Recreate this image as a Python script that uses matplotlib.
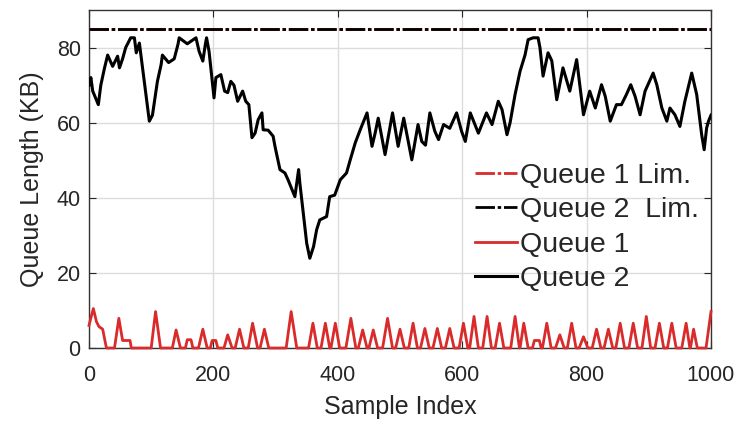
import matplotlib
matplotlib.use("Agg")
import matplotlib.pyplot as plt

# ---------------- data ----------------
sample_range = [0, 1000]
queue1_limit = 85
queue2_limit = 85

black_x = [0, 3, 6, 15, 19, 25, 30, 38, 46, 49, 54, 59, 67, 73, 76, 81, 97, 102, 110, 116,
           118, 128, 137, 143, 145, 158, 172, 177, 183, 187, 189, 193, 201, 204, 212, 218,
           223, 228, 233, 239, 247, 252, 257, 262, 267, 272, 278, 280, 288, 296, 299, 307,
           315, 320, 331, 337, 339, 350, 355, 361, 366, 371, 382, 387, 395, 404, 414, 420,
           428, 436, 447, 455, 460, 465, 476, 488, 497, 506, 519, 529, 535, 541, 548, 556,
           562, 570, 580, 591, 599, 605, 613, 626, 639, 648, 658, 664, 672, 677, 685, 693,
           701, 706, 714, 722, 725, 730, 738, 744, 752, 762, 773, 784, 795, 805, 814, 824,
           830, 838, 848, 856, 864, 871, 878, 886, 894, 907, 913, 921, 929, 934, 942, 950,
           958, 969, 977, 985, 989, 993, 996, 1000]
black_y = [70, 72, 68.4, 64.8, 70, 74.6, 78, 75, 77.7, 74.6, 77, 80, 82.6, 82.6, 78.6, 81.2,
           60.4, 62, 71, 75.5, 78, 76, 77, 80.8, 82.6, 81, 82.6, 79, 76.4, 80.8, 82.6, 79,
           66.6, 72, 72.8, 68.4, 68, 71, 70, 65.7, 68.4, 65.7, 64.8, 56, 57.2, 60.8, 62.6,
           58.1, 58, 56.4, 53.7, 47.5, 46.6, 44.8, 40.3, 47.5, 43.9, 27.9, 23.9, 27, 31.5,
           34.1, 35, 40.3, 40.7, 44.8, 46.6, 50.1, 54.6, 58.1, 62.6, 53.7, 57.2, 61.2, 51.5,
           62.6, 53.7, 61.2, 50.1, 59.5, 55, 54, 62.6, 57.7, 55.5, 59.5, 58.5, 62.6, 57.7,
           55, 62.6, 57.2, 62.6, 59.5, 65.7, 63.5, 56.8, 60, 67.5, 73.7, 78, 82.1, 82.6,
           82.6, 80, 72.4, 78.6, 76.5, 66.1, 74.6, 68.4, 76.8, 62.1, 68.4, 63.9, 70.1, 67,
           60.4, 64.8, 64.8, 67.5, 70.1, 67, 62.1, 68.4, 73.2, 70, 63.9, 60.4, 63.9, 62.1,
           59, 65.7, 73.2, 67.5, 56.8, 52.8, 58.6, 60.4, 62]

red_x = [0, 3, 7, 12, 16, 22, 28,
         41, 48, 54, 56, 66, 68,
         100, 107, 115,
         134, 140, 147,
         155, 158, 164, 167,
         176, 183, 190,
         195, 198, 204, 207,
         217, 223, 230,
         235, 242, 249,
         256, 263, 271,
         275, 282, 289,
         317, 325, 334,
         353, 360, 367,
         373, 380, 387,
         389, 396, 403,
         413, 421, 429,
         433, 440, 447,
         450, 457, 464,
         472, 480, 488,
         493, 500, 507,
         514, 521, 528,
         533, 540, 547,
         553, 560, 567,
         573, 580, 587,
         595, 602, 609,
         612, 619, 626,
         633, 640, 647,
         653, 660, 667,
         678, 685, 692,
         693, 699, 706,
         713, 716, 724, 727,
         729, 736, 743,
         750, 757, 764,
         769, 776, 783,
         788, 795, 802,
         809, 816, 823,
         828, 835, 842,
         847, 854, 861,
         868, 875, 882,
         889, 896, 903,
         910, 917, 924,
         930, 937, 944,
         953, 960, 966,
         967, 972, 978,
         992, 1000]
red_y = [6, 8, 10.5, 7, 5.7, 5, 0,
         0, 7.9, 2, 2, 2, 0,
         0, 9.7, 0,
         0, 4.8, 0,
         0, 2.2, 2.2, 0,
         0, 5, 0,
         0, 2, 2, 0,
         0, 3.5, 0,
         0, 5, 0,
         0, 6.6, 0,
         0, 5, 0,
         0, 9.7, 0,
         0, 6.6, 0,
         0, 6.6, 0,
         0, 6.6, 0,
         0, 7.9, 0,
         0, 4.8, 0,
         0, 4.8, 0,
         0, 7.9, 0,
         0, 5, 0,
         0, 6.6, 0,
         0, 5.2, 0,
         0, 5.2, 0,
         0, 5.2, 0,
         0, 6.6, 0,
         0, 8.4, 0,
         0, 8.4, 0,
         0, 6.6, 0,
         0, 8.4, 0,
         0, 6.6, 0,
         0, 2, 2, 0,
         0, 6.6, 0,
         0, 3.5, 0,
         0, 6.6, 0,
         0, 3, 0,
         0, 5, 0,
         0, 5, 0,
         0, 6.6, 0,
         0, 6.6, 0,
         0, 8.4, 0,
         0, 6.6, 0,
         0, 6.6, 0,
         0, 6.6, 0,
         0, 5, 0,
         0, 9.7]

x_ticks = [0, 200, 400, 600, 800, 1000]
y_ticks = [0, 20, 40, 60, 80]

# ---------------- style ----------------
plt.rcParams['font.family'] = ['Liberation Sans', 'DejaVu Sans']
plt.rcParams['lines.scale_dashes'] = False
RED = '#D92B2B'
TXT = '#262626'

fig = plt.figure(figsize=(7.46, 4.24), dpi=100)
ax = fig.add_axes([89 / 746, 1 - 348 / 424, (711 - 89) / 746, (348 - 10) / 424])

dashdot = (0, (14, 2, 2.5, 2))
ax.plot(sample_range, [queue1_limit] * 2, color=RED, lw=2.0, ls=dashdot,
        label='Queue 1 Lim.', zorder=3)
ax.plot(sample_range, [queue2_limit] * 2, color='black', lw=2.0, ls=dashdot,
        label='Queue 2  Lim.', zorder=4)
ax.plot(red_x, red_y, color=RED, lw=2.0, label='Queue 1', zorder=3, clip_on=False)
ax.plot(black_x, black_y, color='black', lw=2.2, label='Queue 2', zorder=4)

ax.set_xlim(0, 1000)
ax.set_ylim(0, 90)
ax.set_xticks(x_ticks)
ax.set_yticks(y_ticks)
ax.grid(True, color='#DCDCDC', lw=1.0)
ax.set_axisbelow(True)
ax.tick_params(direction='in', top=True, right=True, length=5, width=0.8,
               labelsize=15.5, colors=TXT)
ax.tick_params(axis='y', pad=6)
ax.tick_params(axis='x', pad=12)
for s in ax.spines.values():
    s.set_color('#333333')
    s.set_linewidth(1.0)

ax.set_xlabel('Sample Index', fontsize=18, color=TXT, labelpad=7)
ax.set_ylabel('Queue Length (KB)', fontsize=18, color=TXT, labelpad=9)

leg = ax.legend(loc='upper left', bbox_to_anchor=(0.62, 0.548), frameon=False,
                fontsize=20.5, handlelength=1.5, handletextpad=0.08, labelspacing=0.3,
                borderaxespad=0, borderpad=0)
for t in leg.get_texts():
    t.set_color(TXT)

fig.savefig('out.png', dpi=100)
